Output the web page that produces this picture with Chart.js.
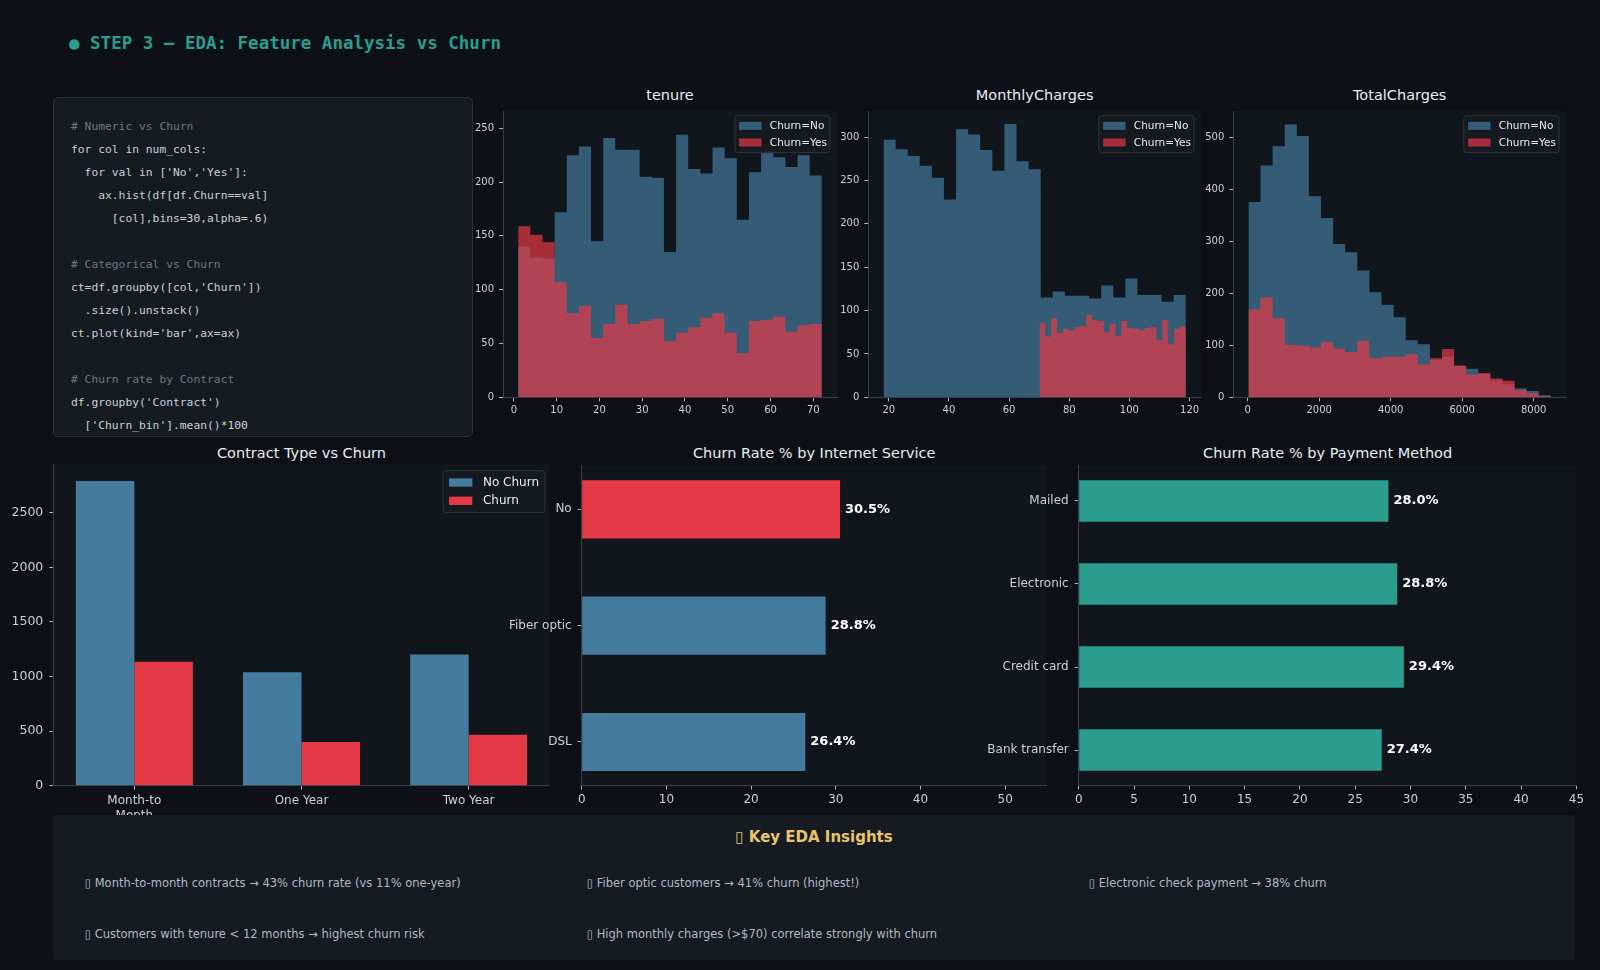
<!DOCTYPE html>
<html><head><meta charset="utf-8">
<script src="https://cdn.jsdelivr.net/npm/chart.js@4.4.0/dist/chart.umd.min.js"></script>
<style>
html,body{margin:0;padding:0;background:#0d1117;width:1600px;height:970px;overflow:hidden;font-family:"DejaVu Sans",sans-serif;}
body{position:relative;}
.abs{position:absolute;}
#hdr{left:69px;top:33px;font:bold 17.5px/20px "DejaVu Sans Mono",monospace;color:#2a9d8f;white-space:pre;}
#code{left:53px;top:97px;width:420px;height:340px;background:#161b22;border:1px solid #2b3139;border-radius:5px;box-sizing:border-box;overflow:hidden;}
#codetxt{left:71px;top:114.6px;margin:0;font:11.3px/23px "DejaVu Sans Mono",monospace;color:#c9d1d9;white-space:pre;height:320px;overflow:hidden;}
.cm{color:#6e7681;}
.ttl{position:absolute;width:400px;text-align:center;font:14.5px/18px "DejaVu Sans",sans-serif;color:#e6edf3;white-space:nowrap;}
#ins{left:53px;top:815px;width:1522px;height:145px;background:#161b22;z-index:5;border-radius:3px;}
#insT{position:absolute;left:0;width:100%;top:12.5px;text-align:center;font:bold 15px/18px "DejaVu Sans",sans-serif;color:#e9c46a;}
.it{position:absolute;font:11.5px/14px "DejaVu Sans",sans-serif;color:#b1bac4;white-space:nowrap;}
</style></head>
<body>
<div id="hdr" class="abs">● STEP 3 — EDA: Feature Analysis vs Churn</div>
<div id="code" class="abs"></div>
<pre id="codetxt" class="abs"><span class="cm"># Numeric vs Churn</span>
for col in num_cols:
  for val in ['No','Yes']:
    ax.hist(df[df.Churn==val]
      [col],bins=30,alpha=.6)

<span class="cm"># Categorical vs Churn</span>
ct=df.groupby([col,'Churn'])
  .size().unstack()
ct.plot(kind='bar',ax=ax)

<span class="cm"># Churn rate by Contract</span>
df.groupby('Contract')
  ['Churn_bin'].mean()*100</pre>

<div class="ttl" style="left:470px;top:85.5px">tenure</div>
<div class="ttl" style="left:834.7px;top:85.5px">MonthlyCharges</div>
<div class="ttl" style="left:1199.7px;top:85.5px">TotalCharges</div>
<div class="ttl" style="left:101.5px;top:444px">Contract Type vs Churn</div>
<div class="ttl" style="left:614.2px;top:444px">Churn Rate % by Internet Service</div>
<div class="ttl" style="left:1127.6px;top:444px">Churn Rate % by Payment Method</div>

<div id="ins" class="abs">
  <div id="insT">▯ Key EDA Insights</div>
  <div class="it" style="left:31.7px;top:61.3px">▯ Month-to-month contracts → 43% churn rate (vs 11% one-year)</div>
  <div class="it" style="left:533.7px;top:61.3px">▯ Fiber optic customers → 41% churn (highest!)</div>
  <div class="it" style="left:1035.8px;top:61.3px">▯ Electronic check payment → 38% churn</div>
  <div class="it" style="left:31.7px;top:111.7px">▯ Customers with tenure &lt; 12 months → highest churn risk</div>
  <div class="it" style="left:533.7px;top:111.7px">▯ High monthly charges (&gt;$70) correlate strongly with churn</div>
</div>

<script>
// ---------------- DATA ----------------
const histBins = 25;
const histLabels = ['Churn=No', 'Churn=Yes'];

const tenureRange = [1, 72];
const tenureNo  = [140, 130, 129, 172, 225, 233, 145, 241, 230, 230, 205, 204, 135, 244, 212, 208, 232, 222, 165, 209, 229, 223, 214, 225, 206];
const tenureYes = [159, 151, 144, 107, 78, 85, 55, 68, 86, 68, 71, 73, 52, 60, 65, 74, 78, 60, 41, 71, 72, 75, 61, 67, 68];

const monthlyRangeNo  = [18.25, 118.75];
const monthlyRangeYes = [70.1, 118.75];
const monthlyNo  = [297, 286, 278, 267, 253, 228, 309, 303, 285, 261, 315, 272, 263, 115, 122, 117, 117, 114, 129, 115, 137, 118, 118, 110, 118];
const monthlyYes = [86, 70, 91, 74, 79, 77, 81, 82, 95, 89, 88, 75, 85, 71, 88, 80, 79, 77, 80, 81, 66, 89, 61, 79, 82];

const totalRange = [19, 8480];
const totalNo  = [376, 446, 483, 525, 503, 387, 345, 295, 279, 244, 202, 178, 154, 110, 102, 72, 78, 60, 55, 45, 33, 25, 17, 12, 4];
const totalYes = [169, 192, 152, 101, 99, 96, 107, 94, 87, 109, 75, 78, 78, 83, 63, 75, 93, 61, 44, 47, 36, 32, 14, 8, 2];

const contractCats = [['Month-to', 'Month'], 'One Year', 'Two Year'];
const contractLabels = ['No Churn', 'Churn'];
const contractNoChurn = [2790, 1040, 1202];
const contractChurn = [1135, 400, 467];

const internetCats = ['No', 'Fiber optic', 'DSL'];
const internetRate = [30.5, 28.8, 26.4];

const paymentCats = ['Mailed', 'Electronic', 'Credit card', 'Bank transfer'];
const paymentRate = [28.0, 28.8, 29.4, 27.4];

// ---------------- STYLE ----------------
const FONT = '"DejaVu Sans", sans-serif';
const AX_BG = '#11151c';
const SPINE = '#3a4049';
const TICKC = '#aeb6bf';
const LBL = '#c9d1d9';
const BLUE = '#457b9d', RED = '#e63946', TEAL = '#2a9d8f';
const H_NO = 'rgba(69,123,157,0.7)', H_YES = 'rgba(230,57,70,0.7)';

// ---------------- PLUGINS ----------------
const areaBg = {
  id: 'areaBg',
  beforeDraw(chart) {
    const a = chart.chartArea, c = chart.ctx;
    c.save(); c.fillStyle = AX_BG; c.fillRect(a.left, a.top, a.right - a.left, a.bottom - a.top); c.restore();
  }
};
const boxLegend = {
  id: 'boxLegend',
  afterDraw(chart, args, o) {
    if (!o || !o.items) return;
    const c = chart.ctx, a = chart.chartArea;
    c.save();
    c.font = o.size + 'px ' + FONT;
    const tw = Math.max(...o.items.map(it => c.measureText(it.label).width));
    const w = o.pad + o.sw + o.gap + tw + o.padR;
    const h = o.first * 2 + o.rowH * (o.items.length - 1);
    const x = a.right - o.right - w, y = a.top + o.top;
    c.beginPath();
    if (c.roundRect) c.roundRect(x, y, w, h, 3); else c.rect(x, y, w, h);
    c.fillStyle = 'rgba(22,27,34,0.92)'; c.fill();
    c.strokeStyle = '#30363d'; c.lineWidth = 1; c.stroke();
    c.textBaseline = 'middle'; c.textAlign = 'left';
    o.items.forEach((it, i) => {
      const cy = y + o.first + i * o.rowH;
      c.fillStyle = it.color;
      c.fillRect(x + o.pad, cy - o.sh / 2, o.sw, o.sh);
      c.fillStyle = '#e6edf3';
      c.fillText(it.label, x + o.pad + o.sw + o.gap, cy + 0.5);
    });
    c.restore();
  }
};
const valLabels = {
  id: 'valLabels',
  afterDatasetsDraw(chart, args, o) {
    if (!o || !o.on) return;
    const c = chart.ctx;
    c.save();
    c.font = 'bold ' + o.size + 'px ' + FONT;
    c.fillStyle = '#ffffff'; c.textAlign = 'left'; c.textBaseline = 'middle';
    chart.data.datasets.forEach((ds, di) => {
      chart.getDatasetMeta(di).data.forEach((bar, i) => {
        c.fillText(ds.data[i].x.toFixed(1) + '%', bar.x + o.off, bar.y);
      });
    });
    c.restore();
  }
};
Chart.register(areaBg, boxLegend, valLabels);

// ---------------- HELPERS ----------------
function binEdges(range, n) {
  const w = (range[1] - range[0]) / n;
  return Array.from({length: n + 1}, (_, i) => range[0] + i * w);
}
function stepPoints(range, counts) {
  const e = binEdges(range, counts.length);
  return e.map((x, i) => ({x, y: counts[Math.min(i, counts.length - 1)]}));
}
function stepTicks(step) {
  return s => {
    const out = [];
    for (let v = Math.ceil(s.min / step - 1e-9) * step; v <= s.max + 1e-9; v += step) out.push({value: +v.toFixed(6)});
    s.ticks = out;
  };
}
const idxTicks = cats => (s => { s.ticks = cats.map((_, i) => ({value: i})); });

function valueAxis(min, max, step, fs, pad) {
  return {
    type: 'linear', min, max, offset: false,
    afterBuildTicks: stepTicks(step),
    grid: {display: true, offset: false, drawOnChartArea: false, drawTicks: true, tickLength: 4, tickWidth: 1, tickColor: TICKC, color: 'rgba(0,0,0,0)'},
    border: {display: true, color: SPINE, width: 1},
    ticks: {color: LBL, font: {family: FONT, size: fs}, padding: pad, autoSkip: false, maxRotation: 0, callback: v => String(v)}
  };
}
function indexAxis(cats, min, max, reverse, fs, pad) {
  return {
    type: 'linear', min, max, reverse, offset: false,
    afterBuildTicks: idxTicks(cats),
    grid: {display: true, offset: false, drawOnChartArea: false, drawTicks: true, tickLength: 4, tickWidth: 1, tickColor: TICKC, color: 'rgba(0,0,0,0)'},
    border: {display: true, color: SPINE, width: 1},
    ticks: {color: LBL, font: {family: FONT, size: fs, lineHeight: 1.3}, padding: pad, autoSkip: false, maxRotation: 0, callback: v => cats[v]}
  };
}
function makeChart(box, area, cfg) {
  const div = document.createElement('div');
  div.className = 'abs';
  Object.assign(div.style, {left: box.x + 'px', top: box.y + 'px', width: box.w + 'px', height: box.h + 'px'});
  const cv = document.createElement('canvas');
  cv.width = box.w; cv.height = box.h;
  div.appendChild(cv);
  document.body.appendChild(div);
  const o = cfg.options;
  o.responsive = false; o.animation = false; o.events = [];
  o.layout = {autoPadding: false, padding: {top: area.t - box.y, right: box.x + box.w - area.r, left: 0, bottom: 0}};
  o.scales.y.afterFit = s => { s.width = area.l - box.x; };
  o.scales.x.afterFit = s => { s.height = box.y + box.h - area.b; };
  o.plugins = Object.assign({legend: {display: false}, tooltip: {enabled: false}}, o.plugins || {});
  return new Chart(cv, cfg);
}
function histLegend() {
  return {items: [{label: histLabels[0], color: H_NO}, {label: histLabels[1], color: H_YES}],
    size: 10.5, pad: 4.3, sw: 22.4, sh: 8, gap: 8.3, padR: 3, rowH: 16.6, first: 10.2, right: 7, top: 4.7};
}
function histChart(box, area, rangeNo, no, rangeYes, yes, xr, xstep, ymax, ystep) {
  const ds = (label, range, counts, color, order) => ({
    label, data: stepPoints(range, counts), stepped: 'before', fill: 'origin',
    backgroundColor: color, borderColor: 'rgba(0,0,0,0)', borderWidth: 0, pointRadius: 0, order
  });
  return makeChart(box, area, {
    type: 'line',
    data: {datasets: [ds(histLabels[0], rangeNo, no, H_NO, 2), ds(histLabels[1], rangeYes, yes, H_YES, 1)]},
    options: {
      scales: {
        x: Object.assign(valueAxis(xr[0], xr[1], xstep, 10, 3), {position: 'bottom'}),
        y: valueAxis(0, ymax, ystep, 10, 5)
      },
      plugins: {boxLegend: histLegend()}
    }
  });
}

// ---------------- TOP ROW: HISTOGRAMS ----------------
histChart({x: 455, y: 100, w: 390, h: 325}, {l: 503, t: 107, r: 837, b: 397.3},
  tenureRange, tenureNo, tenureRange, tenureYes, [-2.55, 75.55], 10, 266, 50);
histChart({x: 825, y: 100, w: 385, h: 325}, {l: 868.3, t: 107, r: 1201, b: 397.3},
  monthlyRangeNo, monthlyNo, monthlyRangeYes, monthlyYes, [13.2, 123.8], 20, 330, 50);
histChart({x: 1190, y: 100, w: 390, h: 325}, {l: 1233.3, t: 107, r: 1566, b: 397.3},
  totalRange, totalNo, totalRange, totalYes, [-404, 8903], 2000, 551, 100);

// ---------------- BOTTOM ROW ----------------
makeChart({x: 0, y: 440, w: 560, h: 380}, {l: 53.3, t: 464, r: 549.7, b: 785.7}, {
  type: 'bar',
  data: {datasets: [
    {label: contractLabels[0], data: contractNoChurn.map((v, i) => ({x: i, y: v})), backgroundColor: BLUE, categoryPercentage: 0.7, barPercentage: 1},
    {label: contractLabels[1], data: contractChurn.map((v, i) => ({x: i, y: v})), backgroundColor: RED, categoryPercentage: 0.7, barPercentage: 1}
  ]},
  options: {
    scales: {
      x: indexAxis(contractCats, -0.485, 2.485, false, 12, 3),
      y: valueAxis(0, 2946, 500, 12.5, 6)
    },
    plugins: {boxLegend: {items: [{label: contractLabels[0], color: BLUE}, {label: contractLabels[1], color: RED}],
      size: 12, pad: 6, sw: 23.3, sh: 8.3, gap: 10.6, padR: 6, rowH: 18.3, first: 11.8, right: 4.7, top: 6.7}}
  }
});

function hbarChart(box, area, cats, vals, colors, xmax, xstep) {
  const m = 0.25 + 0.05 * (cats.length - 0.5);
  return makeChart(box, area, {
    type: 'bar',
    data: {datasets: [{data: vals.map((v, i) => ({x: v, y: i})), backgroundColor: colors, categoryPercentage: 0.5, barPercentage: 1}]},
    options: {
      indexAxis: 'y',
      scales: {
        x: valueAxis(0, xmax, xstep, 12, 3),
        y: indexAxis(cats, -m, cats.length - 1 + m, true, 12, 6)
      },
      plugins: {valLabels: {on: true, size: 13, off: 5}}
    }
  });
}
const internetMax = Math.max(...internetRate);
hbarChart({x: 480, y: 440, w: 575, h: 380}, {l: 581.7, t: 465.7, r: 1046.7, b: 785.6},
  internetCats, internetRate, internetRate.map(v => v === internetMax ? RED : BLUE), 54.9, 10);
hbarChart({x: 950, y: 440, w: 640, h: 380}, {l: 1078.7, t: 465.7, r: 1576.4, b: 785.3},
  paymentCats, paymentRate, paymentRate.map(() => TEAL), 45, 5);
</script>
</body></html>
